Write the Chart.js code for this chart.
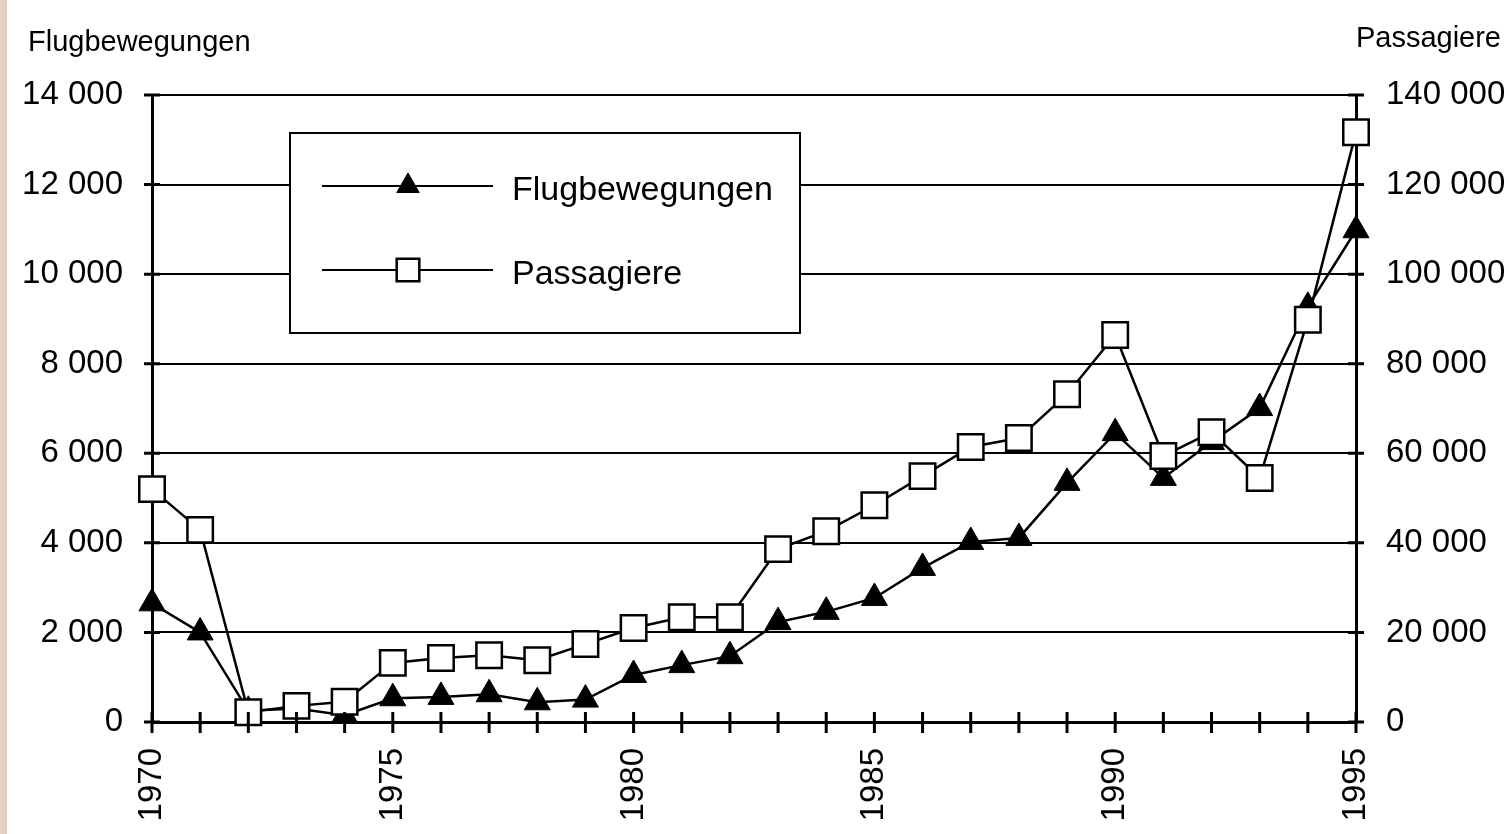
<!DOCTYPE html>
<html lang="de">
<head>
<meta charset="UTF-8"/>
<title>Flugbewegungen und Passagiere 1970-1995</title>
<style>
  html, body { margin:0; padding:0; background:#fff; }
  #wrap { position:relative; width:1509px; height:834px; }
  #strip { position:absolute; left:0; top:0; width:7px; height:834px; background:#e3d3bc; }
  canvas { position:absolute; left:0; top:0; }
</style>
<script src="https://cdn.jsdelivr.net/npm/chart.js@4"></script>
</head>
<body>
<div id="wrap">
  <canvas id="chart" width="1509" height="834"></canvas>
  <div id="strip"></div>
</div>
<script>
const years = ['1970','1971','1972','1973','1974','1975','1976','1977','1978','1979',
               '1980','1981','1982','1983','1984','1985','1986','1987','1988','1989',
               '1990','1991','1992','1993','1994','1995'];
const flugbewegungen = [2650, 2000, 250, 300, 150, 530, 560, 620, 440, 500,
                        1050, 1270, 1470, 2230, 2460, 2770, 3440, 4020, 4110, 5340,
                        6450, 5450, 6250, 7010, 9270, 10980];
const passagiere = [52000, 42900, 2200, 3600, 4500, 13200, 14300, 14900, 13800, 17400,
                    21000, 23400, 23400, 38600, 42600, 48400, 54900, 61400, 63400, 73200,
                    86400, 59400, 64700, 54500, 89800, 131700];
const labeledYears = ['1970','1975','1980','1985','1990','1995'];

const FONT = 'Liberation Sans, Arial, Helvetica, sans-serif';
const fmt = v => String(v).replace(/\B(?=(\d{3})+(?!\d))/g, ' ');

// axis titles + legend box + ticks crossing the axes
const extras = {
  id: 'extras',
  beforeDatasetsDraw(chart) {
    const ctx = chart.ctx;
    ctx.save();
    // legend box
    ctx.fillStyle = '#fff';
    ctx.fillRect(290, 133, 510, 200);
    ctx.strokeStyle = '#000';
    ctx.lineWidth = 2;
    ctx.strokeRect(290, 133, 510, 200);
    const rows = [
      { ds: chart.data.datasets[0], y: 186 },
      { ds: chart.data.datasets[1], y: 270 }
    ];
    rows.forEach(r => {
      ctx.strokeStyle = '#000';
      ctx.lineWidth = 2;
      ctx.beginPath();
      ctx.moveTo(322, r.y); ctx.lineTo(493, r.y);
      ctx.stroke();
      ctx.fillStyle = r.ds.pointBackgroundColor;
      ctx.strokeStyle = '#000';
      ctx.lineWidth = r.ds.pointBorderWidth;
      Chart.helpers.drawPoint(ctx, { pointStyle: r.ds.pointStyle, radius: r.ds.pointRadius - 2, rotation: 0, borderWidth: r.ds.pointBorderWidth }, 408, r.y);
      ctx.fillStyle = '#000';
      ctx.font = '34px ' + FONT;
      ctx.textBaseline = 'middle';
      ctx.textAlign = 'left';
      ctx.fillText(r.ds.label, 512, r.y + 5);
    });
    ctx.restore();
  },
  afterDraw(chart) {
    const ctx = chart.ctx;
    const { x, y, y2 } = chart.scales;
    ctx.save();
    ctx.strokeStyle = '#000';
    ctx.lineWidth = 3;
    ctx.beginPath();
    x.ticks.forEach((t, i) => {
      const px = x.getPixelForTick(i);
      ctx.moveTo(px, x.top - 10); ctx.lineTo(px, x.top + 11);
    });
    y.ticks.forEach((t, i) => {
      const py = y.getPixelForTick(i);
      ctx.moveTo(y.right - 8, py); ctx.lineTo(y.right + 8, py);
    });
    y2.ticks.forEach((t, i) => {
      const py = y2.getPixelForTick(i);
      ctx.moveTo(y2.left - 8, py); ctx.lineTo(y2.left + 8, py);
    });
    ctx.stroke();
    ctx.fillStyle = '#000';
    ctx.font = '29px ' + FONT;
    ctx.textBaseline = 'middle';
    ctx.textAlign = 'left';
    ctx.fillText('Flugbewegungen', 28, 43);
    ctx.textAlign = 'right';
    ctx.fillText('Passagiere', 1501, 39);
    ctx.restore();
  }
};

new Chart(document.getElementById('chart'), {
  type: 'line',
  data: {
    labels: years,
    datasets: [
      {
        label: 'Flugbewegungen',
        data: flugbewegungen,
        yAxisID: 'y',
        order: 2,
        borderColor: '#000',
        borderWidth: 2.5,
        pointStyle: 'triangle',
        pointRadius: 15,
        pointBackgroundColor: '#000',
        pointBorderColor: '#000',
        pointBorderWidth: 1,
        clip: false
      },
      {
        label: 'Passagiere',
        data: passagiere,
        yAxisID: 'y2',
        order: 1,
        borderColor: '#000',
        borderWidth: 2.5,
        pointStyle: 'rect',
        pointRadius: 18,
        pointBackgroundColor: '#fff',
        pointBorderColor: '#000',
        pointBorderWidth: 2.5,
        clip: false
      }
    ]
  },
  options: {
    responsive: false,
    animation: false,
    layout: { padding: { top: 95, left: 0, right: 0, bottom: 0 } },
    plugins: { legend: { display: false }, tooltip: { enabled: false } },
    elements: { line: { tension: 0 } },
    scales: {
      x: {
        offset: false,
        grid: { display: true, drawOnChartArea: false, drawTicks: false },
        border: { color: '#000', width: 3 },
        afterFit: s => { s.height = 112; },
        ticks: {
          autoSkip: false,
          minRotation: 90,
          maxRotation: 90,
          padding: 26,
          color: '#000',
          font: { family: FONT, size: 33 },
          callback: function (v, i) {
            const l = this.getLabelForValue(v);
            return labeledYears.includes(l) ? l : '';
          }
        }
      },
      y: {
        position: 'left',
        min: 0, max: 14000,
        afterFit: s => { s.width = 152; },
        grid: { color: '#000', lineWidth: 2, drawTicks: false },
        border: { color: '#000', width: 3 },
        ticks: {
          stepSize: 2000,
          padding: 29,
          color: '#000',
          font: { family: FONT, size: 33 },
          callback: v => fmt(v)
        }
      },
      y2: {
        position: 'right',
        min: 0, max: 140000,
        afterFit: s => { s.width = 153; },
        grid: { drawOnChartArea: false, drawTicks: false },
        border: { color: '#000', width: 3 },
        ticks: {
          stepSize: 20000,
          padding: 30,
          color: '#000',
          font: { family: FONT, size: 33 },
          callback: v => fmt(v)
        }
      }
    }
  },
  plugins: [extras]
});
</script>
</body>
</html>
